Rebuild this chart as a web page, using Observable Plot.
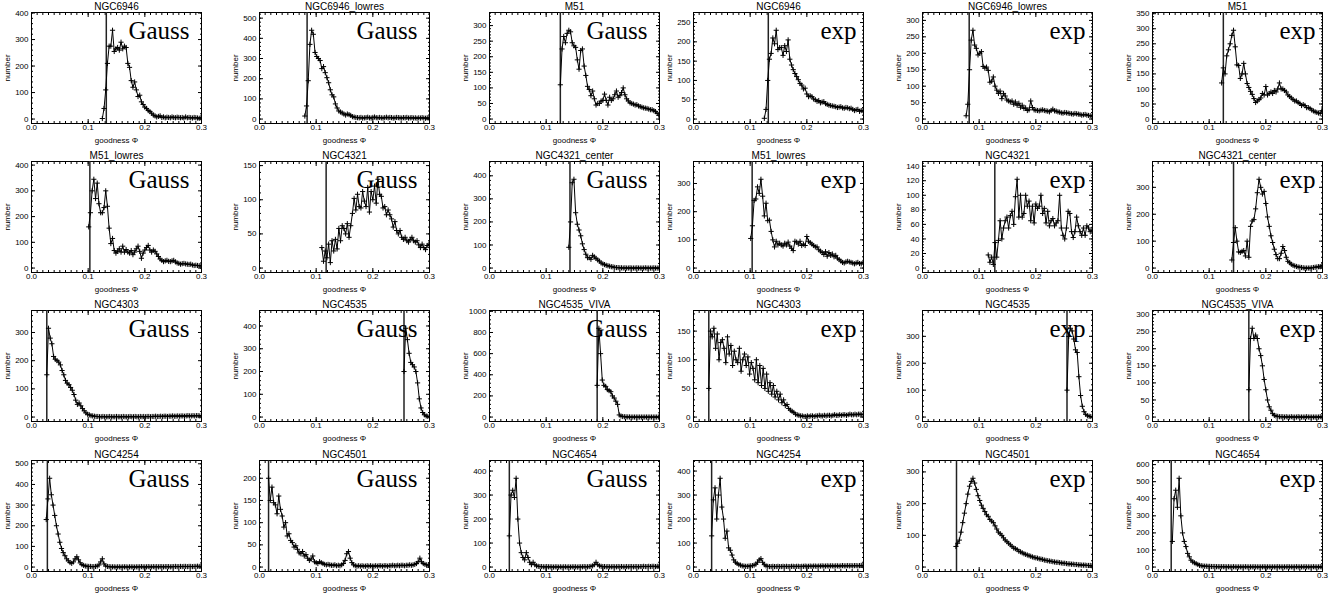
<!DOCTYPE html>
<html><head><meta charset="utf-8">
<script src="https://cdn.jsdelivr.net/npm/d3@7"></script>
<script src="https://cdn.jsdelivr.net/npm/@observablehq/plot@0.6"></script>
<style>
html,body{margin:0;padding:0;background:#fff;}
#wrap{position:relative;width:1341px;height:597px;overflow:hidden;background:#fff;}
#wrap svg{position:absolute;overflow:visible;}
</style></head>
<body><div id="wrap"></div>
<script>
// ---- chart data ----
const titles = ["NGC6946","NGC6946_lowres","M51","NGC6946","NGC6946_lowres","M51",
  "M51_lowres","NGC4321","NGC4321_center","M51_lowres","NGC4321","NGC4321_center",
  "NGC4303","NGC4535","NGC4535_VIVA","NGC4303","NGC4535","NGC4535_VIVA",
  "NGC4254","NGC4501","NGC4654","NGC4254","NGC4501","NGC4654"];
const fitTypes = ["Gauss","Gauss","Gauss","exp","exp","exp",
  "Gauss","Gauss","Gauss","exp","exp","exp",
  "Gauss","Gauss","Gauss","exp","exp","exp",
  "Gauss","Gauss","Gauss","exp","exp","exp"];
const cutoffs = [0.132,0.084,0.125,0.132,0.0824,0.125,
  0.103,0.1176,0.142,0.1035,0.1276,0.143,
  0.027,0.255,0.19,0.027,0.255,0.17,
  0.028,0.016,0.035,0.032,0.06,0.033];
const startX = [0.125,0.080,0.125,0.125,0.077,0.122,
  0.101,0.110,0.140,0.101,0.116,0.140,
  0.027,0.255,0.190,0.027,0.255,0.170,
  0.026,0.016,0.035,0.032,0.059,0.035];
const binStep = 0.003;
const yTickStep = [100,100,50,50,50,50, 100,50,100,100,20,100, 100,100,200,50,100,50, 100,50,100,100,100,100];
const xTickValues = [0, 0.1, 0.2, 0.3];

const ngc6946_gauss = [2,40,110,210,275,275,335,255,265,270,260,290,265,275,270,210,195,145,120,140,110,85,90,65,55,45,40,32,28,22,15,12,8,10,12,6,8,5,7,6,5,8,6,5,7,6,5,6,4,8,5,6,5,4,6,5,4,3,5];
const ngc6946lo_gauss = [15,65,190,370,440,420,330,310,300,290,250,260,230,205,180,145,120,110,75,55,40,35,30,25,20,25,22,18,12,10,8,7,6,8,5,6,7,9,6,5,8,10,7,6,8,6,5,7,9,6,8,7,5,6,8,7,6,5,7,6,8,5,6,7,5,6,4,6,5,7,5,4,6,5];
const m51_gauss = [110,225,265,245,275,285,280,245,235,230,190,160,220,225,170,140,105,95,75,90,65,45,50,50,58,60,80,60,45,70,60,65,78,90,70,75,85,100,78,65,58,52,50,48,45,46,42,40,38,36,35,34,32,30,30,27,24,18,12];
const ngc6946_exp = [2,25,100,155,170,210,195,230,180,185,185,165,190,175,205,155,140,128,118,110,102,92,88,78,80,65,58,60,58,52,50,46,48,42,44,45,40,38,36,35,34,33,32,30,31,32,29,28,30,29,27,28,25,22,24,25,20,22,22];
const ngc6946lo_exp = [10,45,150,240,270,225,215,195,200,205,160,155,158,148,112,115,128,100,88,78,85,62,78,70,58,55,52,55,45,52,42,48,36,42,32,34,26,28,55,35,28,27,26,25,27,28,26,25,24,22,26,30,25,24,22,21,19,18,20,19,18,17,16,15,17,16,15,14,12,13,14,12,11,10,9];
const m51_exp = [120,170,150,210,230,250,278,295,240,180,178,135,150,185,150,118,105,92,82,68,55,60,65,70,85,80,108,80,85,90,85,95,90,100,120,100,100,95,90,80,75,70,65,60,60,55,52,45,48,45,38,38,35,30,27,24,22,20,18,28];
const m51lo_gauss = [160,215,300,345,270,330,250,215,215,235,300,240,155,95,115,68,58,65,75,62,85,62,72,62,58,68,52,62,75,85,65,38,58,70,80,88,70,62,70,65,55,45,35,30,25,28,30,26,25,28,30,24,20,18,15,17,18,16,15,14,15,12,10,11,10,9,8];
const ngc4321_gauss = [30,10,25,15,35,8,40,25,42,28,58,40,62,58,50,65,45,62,80,102,85,108,90,88,112,98,90,118,82,112,100,120,95,130,108,105,88,90,78,85,78,72,60,68,55,50,55,45,42,45,40,38,42,45,40,38,40,34,30,35,30,27,33,35];
const ngc4321c_gauss = [90,200,370,385,240,190,165,140,105,80,60,45,45,38,55,48,42,35,30,22,18,15,12,10,8,6,5,3,2,2,1,1,0,1,0,0,1,0,0,0,1,0,0,0,0,1,0,0,0,0,1,0,0,0];
const m51lo_exp = [105,150,240,245,288,265,315,255,185,230,168,170,130,100,75,95,82,88,82,78,88,82,92,78,70,62,95,92,85,95,80,85,80,112,95,90,85,80,75,75,65,60,55,48,58,42,55,45,50,40,45,35,30,25,20,18,22,24,22,20,18,15,18,20,16,15,20];
const ngc4321_exp = [18,8,15,5,35,15,38,65,40,55,65,70,55,72,78,60,98,122,70,100,70,75,100,85,92,65,85,62,88,82,85,100,75,82,62,78,58,65,68,58,62,65,100,55,45,40,55,78,75,50,42,50,70,58,50,45,55,45,58,55,50,52];
const ngc4321c_exp = [30,95,150,100,60,58,62,65,45,100,40,155,175,180,220,280,330,300,275,285,240,190,155,120,95,70,50,35,35,55,80,65,40,25,20,14,10,8,6,4,3,2,1,0,0,0,0,1,2,3,4,5,5,10];
const ngc4303_gauss = [150,315,280,260,215,205,200,195,185,165,150,130,120,115,105,95,80,60,45,50,40,30,22,15,10,8,5,4,3,2,2,1,1,2,1,1,1,2,1,1,1,2,1,1,1,2,1,1,1,2,1,1,2,1,1,2,1,2,1,2,2,1,2,2,3,2,2,3,2,3,3,2,3,3,4,3,3,4,3,4,4,3,4,5,4,4,5,4,5,5,4,5];
const ngc4535_gauss = [200,390,340,280,240,230,220,200,150,80,40,20,10,5,3,2];
const ngc4535v_gauss = [300,840,600,350,300,290,260,250,240,200,180,150,120,20,10,5,3,2,1,1,0,0,0,0,0,0,0,0,0,0,0,0,0,0,0,0,0];
const ngc4303_exp = [50,150,140,155,120,145,100,130,135,120,95,140,110,125,90,115,100,95,120,80,100,110,90,105,75,95,85,65,100,60,90,55,85,50,75,45,60,40,55,35,45,30,40,25,30,20,22,15,12,10,8,5,4,3,2,2,1,1,2,1,2,2,1,2,2,3,2,2,3,2,3,3,2,3,4,3,3,4,3,4,4,3,4,5,4,4,5,4,5,5,4,5];
const ngc4535_exp = [100,300,330,320,290,250,240,150,80,40,20,10,5,3,2,1];
const ngc4535v_exp = [80,230,260,230,240,230,200,180,150,110,80,50,30,20,10,5,3,2,1,1,1,0,1,0,0,1,0,0,0,1,0,0,0,0,1,0,0,0,0,0,0,0,1,0];
const ngc4254_gauss = [230,330,430,350,300,250,200,160,120,90,70,55,40,30,22,18,25,40,50,35,20,12,8,5,4,3,3,2,2,3,5,10,25,40,15,5,3,2,1,1,1,0,1,1,0,1,1,1,0,1,1,1,0,1,1,1,2,1,1,1,2,1,1,2,1,2,1,2,2,1,2,2,2,1,2,2,3,2,2,3,2,3,3,2,3,3,2,3,3,4,3,3];
const ngc4501_gauss = [200,150,180,145,140,120,160,130,115,90,100,70,75,60,55,45,48,40,32,30,35,25,28,20,15,18,25,12,10,8,12,10,8,6,5,6,5,4,4,5,3,4,3,5,8,15,30,35,20,10,5,3,2,3,2,3,2,2,3,2,3,2,2,3,2,3,3,2,3,3,2,3,3,4,3,3,4,3,4,4,3,4,4,5,4,5,6,8,12,20,12,8,6,5,4];
const ngc4654_gauss = [130,300,320,290,370,200,100,60,40,30,60,40,20,10,20,10,5,3,2,2,1,1,2,1,1,1,0,1,1,0,1,0,1,1,0,1,0,1,1,1,0,1,1,1,2,1,1,2,3,5,10,20,10,5,3,2,2,1,2,1,1,2,1,1,2,1,2,1,1,2,1,2,2,1,2,2,1,2,2,3,2,2,3,2,3,3,2,3,3];
const ngc4254_exp = [130,280,330,200,300,370,250,200,120,150,80,70,50,30,20,15,10,8,5,4,3,3,4,5,6,8,12,20,30,35,20,10,5,3,2,2,3,2,2,3,2,2,3,2,3,2,2,3,3,2,3,3,2,3,3,4,3,3,4,3,4,4,3,4,4,5,4,4,5,4,5,5,4,5,5,4,5,6,5,5,6,5,6,5,6,6,5,6,7,6];
const ngc4501_exp = [65,75,85,110,140,170,200,230,255,270,280,265,245,225,210,195,185,175,165,160,150,145,140,130,120,110,105,100,92,85,80,75,70,65,60,58,55,50,48,45,42,40,38,36,34,32,30,29,28,26,25,24,22,21,20,19,18,17,16,15,15,14,13,12,12,11,10,10,9,9,8,8,7,7,6,6,6,5,5,5,4];
const ngc4654_exp = [150,400,450,350,520,300,200,150,120,80,60,40,30,25,20,15,10,8,6,5,5,4,4,3,3,3,2,2,2,2,2,2,1,2,1,1,2,1,1,1,1,1,1,2,1,1,1,1,2,1,1,1,1,1,2,1,1,1,1,1,1,1,2,1,1,1,1,1,2,1,1,1,1,2,1,1,1,1,2,1,1,1,1,2,1,1,1,2,1];

const seriesValues = [ngc6946_gauss, ngc6946lo_gauss, m51_gauss, ngc6946_exp, ngc6946lo_exp, m51_exp,
  m51lo_gauss, ngc4321_gauss, ngc4321c_gauss, m51lo_exp, ngc4321_exp, ngc4321c_exp,
  ngc4303_gauss, ngc4535_gauss, ngc4535v_gauss, ngc4303_exp, ngc4535_exp, ngc4535v_exp,
  ngc4254_gauss, ngc4501_gauss, ngc4654_gauss, ngc4254_exp, ngc4501_exp, ngc4654_exp];

// ---- layout ----
const frameLefts = [31, 259, 489, 693, 922, 1152];
const frameTops = [12, 161, 310, 460];
const FW = 170, FH = 111, ML = 32, MR = 8, MT = 12, MB = 26;
const sans = "'Liberation Sans', Arial, Helvetica, sans-serif";
const serif = "'Liberation Serif', 'DejaVu Serif', serif";

const wrap = document.getElementById("wrap");

function makePanel(i) {
  const vals = seriesValues[i];
  const data = vals.map((v, j) => ({x: +(startX[i] + j * binStep).toFixed(4), y: v}));
  const ymax = d3.max(vals);
  const dom = [-0.05 * ymax, 1.2 * ymax];
  const st = yTickStep[i];
  const yMaj = d3.range(0, dom[1] + 1e-9, st);
  const yMin = d3.range(0, dom[1], st / 5);
  const xMin = d3.range(0, 0.3001, 0.01);
  const tickOnly = {tickFormat: null, label: null, fill: "none", stroke: "#000"};
  const isGauss = fitTypes[i] === "Gauss";
  const svg = Plot.plot({
    width: ML + FW + MR, height: MT + FH + MB,
    marginLeft: ML, marginRight: MR, marginTop: MT, marginBottom: MB,
    style: {fontFamily: sans, fontSize: "8px", color: "#000", background: "transparent", overflow: "visible"},
    x: {domain: [0, 0.3]},
    y: {domain: dom},
    marks: [
      Plot.axisX(xTickValues, {anchor: "bottom", tickSize: -4, tickPadding: 5, tickFormat: d3.format(".1f"),
        label: "goodness Φ", labelAnchor: "center", labelOffset: 19, labelArrow: "none", stroke: "#000", fill: "#000"}),
      Plot.axisX(xMin, {anchor: "bottom", tickSize: -2, ...tickOnly}),
      Plot.axisX(xTickValues, {anchor: "top", tickSize: -4, ...tickOnly}),
      Plot.axisX(xMin, {anchor: "top", tickSize: -2, ...tickOnly}),
      Plot.axisY(yMaj, {anchor: "left", tickSize: -4, tickPadding: 7, tickFormat: d3.format("d"),
        label: "number", labelAnchor: "center", labelOffset: 27, labelArrow: "none", stroke: "#000", fill: "#000"}),
      Plot.axisY(yMin, {anchor: "left", tickSize: -2, ...tickOnly}),
      Plot.axisY(yMaj, {anchor: "right", tickSize: -4, ...tickOnly}),
      Plot.axisY(yMin, {anchor: "right", tickSize: -2, ...tickOnly}),
      Plot.frame({stroke: "#000", strokeWidth: 1}),
      Plot.ruleX([cutoffs[i]], {stroke: "#222", strokeWidth: 1.5}),
      Plot.line(data, {x: "x", y: "y", stroke: "#000", strokeWidth: 1, clip: true}),
      Plot.dot(data, {x: "x", y: "y", symbol: "plus", r: 1.8, stroke: "#000", strokeWidth: 1, clip: true}),
      Plot.text([titles[i]], {frameAnchor: "top", dy: -3, lineAnchor: "bottom", fontSize: 10, fill: "#000"}),
      Plot.text([fitTypes[i]], {frameAnchor: "top-right", dx: isGauss ? -12 : -7, dy: 9, lineAnchor: "top", textAnchor: "end",
        fontSize: 25, fontFamily: serif, fill: "#000"})
    ]
  });
  const col = i % 6, row = Math.floor(i / 6);
  svg.style.left = (frameLefts[col] - ML) + "px";
  svg.style.top = (frameTops[row] - MT) + "px";
  wrap.appendChild(svg);
}
for (let i = 0; i < 24; i++) makePanel(i);
</script>
</body></html>
